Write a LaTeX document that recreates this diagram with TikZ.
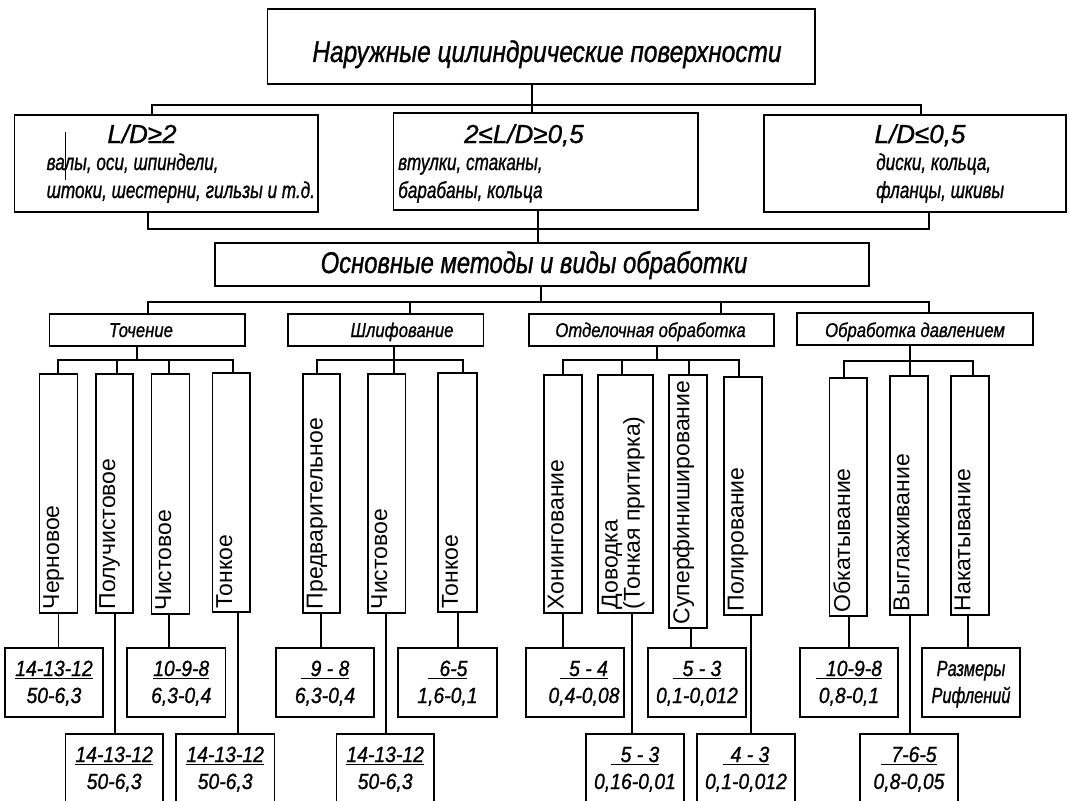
\documentclass[tikz,border=0pt]{standalone}
\usepackage{fontspec}
\setmainfont{Liberation Sans}
\newfontfamily\fA{Liberation Sans}[FakeStretch=0.88, FakeBold=0.9]
\newfontfamily\fB{Liberation Sans}[FakeStretch=0.815, FakeBold=0.9]
\newfontfamily\fC{Liberation Sans}[FakeStretch=0.795, FakeBold=0.9]
\newfontfamily\fD{Liberation Sans}[FakeStretch=0.745, FakeBold=0.9]
\newfontfamily\fE{Liberation Sans}[FakeStretch=0.835, FakeBold=0.9]
\newfontfamily\fF{Liberation Sans}[FakeBold=0.9]
\usetikzlibrary{fit}
\newcommand\myul[1]{\setbox0=\hbox{#1}\rlap{\rule[-3pt]{\wd0}{1.3pt}}\box0}
\begin{document}
\begin{tikzpicture}[x=1pt,y=-1pt,
  box/.style={draw, line width=1.7pt, inner sep=0pt, outer sep=0pt},
  conn/.style={line width=1.7pt},
  ttl/.style={font=\fB\itshape\fontsize{30}{32}\selectfont, inner sep=0pt},
  ttlb/.style={font=\fC\itshape\fontsize{30}{32}\selectfont, inner sep=0pt},
  ld/.style={font=\fF\itshape\fontsize{26}{28}\selectfont, inner sep=0pt},
  sub/.style={font=\fD\itshape\fontsize{23}{25}\selectfont, inner sep=0pt},
  cat/.style={font=\fE\itshape\fontsize{20}{22}\selectfont, inner sep=0pt},
  rtxt/.style={font=\fA\itshape\fontsize{22}{24}\selectfont, inner sep=0pt},
  rtxtn/.style={font=\fD\itshape\fontsize{22}{24}\selectfont, inner sep=0pt},
  vlab/.style={rotate=90, anchor=north west, inner sep=3.5pt, align=left, font=\fontsize{23}{21}\selectfont}]
\useasboundingbox (0,0) rectangle (1070,800);
\fill[white] (0,0) rectangle (1070,800);
\clip (0,0) rectangle (1070,800);

\newcommand\bus[6]{%
  \coordinate (bp) at (#3,#4);
  \draw[conn] (bp |- #1.#2) -- (bp);
  \foreach \cn/\cx in {#6} {
    \coordinate (bc) at (\cx,#4);
    \draw[conn] (bp) -- (bc) -- (bc |- \cn.#5);
  }
}
\newcommand\vb[6]{%
  \node[box, fit={(#2,#3) (#4,#5)}] (#1) {};
  \node[vlab] (#1t) at (#1.south west) {#6};
}
\newcommand\resb[9]{%
  \node[box, fit={(#2,#3) (#4,#5)}] (#1) {};
  \node[#9, anchor=base, xshift=#8] (#1a) at ({(#2+#4)/2},{#3+28}) {#6};
  \node[#9, anchor=base, xshift=#8] (#1b) at ({(#2+#4)/2},{#3+55}) {#7};
}

% top
\node[box, fit={(267.5,9) (815,84)}] (T) {};
\node[ttl, anchor=base] (Tt) at (547,62) {Наружные цилиндрические поверхности};

\node[box, fit={(14.5,115) (318,212)}] (L) {};
\node[ld, anchor=base] (Lt) at (142,143) {L/D≥2};
\node[sub, anchor=base west] (La) at (46.5,170) {валы, оси, шпиндели,};
\node[sub, anchor=base west] (Lb) at (46.5,198) {штоки, шестерни, гильзы и т.д.};

\node[box, fit={(393.6,113) (698,210)}] (M) {};
\node[ld, anchor=base] (Mt) at (524,143) {2≤L/D≥0,5};
\node[sub, anchor=base west] (Ma) at (398,170) {втулки, стаканы,};
\node[sub, anchor=base west] (Mb) at (398,198) {барабаны, кольца};

\node[box, fit={(764,115) (1066,212)}] (R) {};
\node[ld, anchor=base] (Rt) at (920,143) {L/D≤0,5};
\node[sub, anchor=base west] (Ra) at (876,170) {диски, кольца,};
\node[sub, anchor=base west] (Rb) at (876,198) {фланцы, шкивы};

\draw[line width=1.2pt] (65.4,132) -- (65.4,180);

\node[box, fit={(215,243) (869,286)}] (O) {};
\node[ttlb, anchor=base] (Ot) at (534,273) {Основные методы и виды обработки};

% categories
\node[box, fit={(49.6,314) (244.8,346)}] (K1) {};
\node[cat, anchor=base] (K1t) at (141,337) {Точение};
\node[box, fit={(288.2,314) (483.4,346)}] (K2) {};
\node[cat, anchor=base] (K2t) at (402,337) {Шлифование};
\node[box, fit={(529,314) (773.8,346)}] (K3) {};
\node[cat, anchor=base] (K3t) at (650.5,337) {Отделочная обработка};
\node[box, fit={(796.8,313) (1032.7,345)}] (K4) {};
\node[cat, anchor=base] (K4t) at (915,337) {Обработка давлением};

% vertical boxes
\vb{V1}{39.6}{374}{77.5}{613}{Черновое}
\vb{V2}{95.7}{374}{133.3}{613}{Получистовое}
\vb{V3}{151.5}{374}{189.4}{614}{Чистовое}
\vb{V4}{212.5}{373}{250.3}{612}{Тонкое}
\vb{V5}{303}{374}{340.2}{613}{Предварительное}
\vb{V6}{367.7}{374}{405.6}{613}{Чистовое}
\vb{V7}{438.3}{373}{476.9}{612}{Тонкое}
\vb{V8}{544}{375}{582}{613}{Хонингование}
\vb{V9}{598}{375}{653}{613}{Доводка\\(Тонкая притирка)}
\vb{V10}{669}{375}{707}{628}{Суперфиниширование}
\vb{V11}{724}{377}{762}{615}{Полирование}
\vb{V12}{829.6}{378}{866.8}{616}{Обкатывание}
\vb{V13}{889.8}{376}{927.7}{615}{Выглаживание}
\vb{V14}{950.8}{376}{988.7}{615}{Накатывание}

% result boxes
\resb{Q1}{5}{648}{103}{717}{\myul{14-13-12}}{50-6,3}{0pt}{rtxt}
\resb{Q3}{127}{648}{225.5}{717}{\myul{10-9-8}}{6,3-0,4}{5pt}{rtxt}
\resb{Q5}{276}{648}{374}{717}{\myul{\hspace{10pt}9 - 8}}{6,3-0,4}{0pt}{rtxt}
\resb{Q7}{398}{648}{497}{717}{\myul{\hspace{12pt}6-5}}{1,6-0,1}{0pt}{rtxt}
\resb{Q8}{526}{648}{624}{717}{\myul{\hspace{9pt}5 - 4}}{0,4-0,08}{9pt}{rtxt}
\resb{Q10}{648}{648}{746}{717}{\myul{\hspace{10pt}5 - 3}}{0,1-0,012}{0pt}{rtxt}
\resb{Q12}{800}{648}{898}{717}{\myul{\hspace{10pt}10-9-8}}{0,8-0,1}{0pt}{rtxt}
\resb{Q14}{922}{648}{1020}{717}{Размеры}{Рифлений}{0pt}{rtxtn}
\resb{Q2}{65.4}{734}{163}{812}{\myul{14-13-12}}{50-6,3}{0pt}{rtxt}
\resb{Q4}{176}{734}{274.4}{812}{\myul{14-13-12}}{50-6,3}{0pt}{rtxt}
\resb{Q6}{336.4}{734}{434}{812}{\myul{14-13-12}}{50-6,3}{0pt}{rtxt}
\resb{Q9}{586}{734}{684}{812}{\myul{\hspace{10pt}5 - 3}}{0,16-0,01}{0pt}{rtxt}
\resb{Q11}{697}{734}{795}{812}{\myul{\hspace{8pt}4 - 3}}{0,1-0,012}{0pt}{rtxt}
\resb{Q13}{860}{734}{958}{812}{\myul{\hspace{10pt}7-6-5}}{0,8-0,05}{0pt}{rtxt}

% connectors
\bus{T}{south}{532}{105}{north}{L/152,M/532,R/921}
\bus{O}{north}{538}{229}{south}{L/148,M/538,R/929}
\bus{O}{south}{541}{302}{north}{K1/148,K2/410,K3/721,K4/929}
\bus{K1}{south}{137}{360}{north}{V1/58,V2/117,V3/169,V4/233}
\bus{K2}{south}{394}{360}{north}{V5/317,V6/394,V7/463}
\bus{K3}{south}{657}{360}{north}{V8/563,V9/622,V10/689,V11/739}
\bus{K4}{south}{910}{361}{north}{V12/844,V13/910,V14/973}

\foreach \vn/\qn/\dx in {V1/Q1/58.5,V2/Q2/115,V3/Q3/169,V4/Q4/238,V5/Q5/321,V6/Q6/386,V7/Q7/458,V8/Q8/563,V9/Q9/632,V10/Q10/691,V11/Q11/751,V12/Q12/849,V13/Q13/910,V14/Q14/968} {
  \coordinate (dc) at (\dx,0);
  \draw[conn] (dc |- \vn.south) -- (dc |- \qn.north);
}
\end{tikzpicture}
\end{document}
